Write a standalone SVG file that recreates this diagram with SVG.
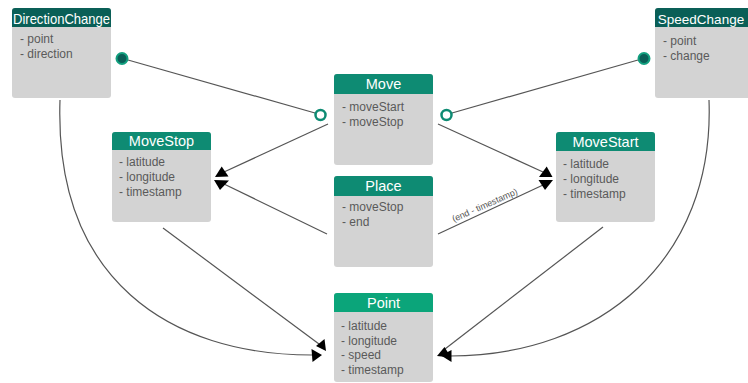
<svg xmlns="http://www.w3.org/2000/svg" width="748" height="383" viewBox="0 0 748 383">
<style>
.body{fill:#d3d3d3}
.hd{fill:#0e8b73}
.hd2{fill:#0a5f57}
.hd3{fill:#0ba57a}
.title{font-family:"Liberation Sans",Arial,sans-serif;font-size:14.5px;fill:#fff;text-anchor:middle}
.attr{font-family:"Liberation Sans",Arial,sans-serif;font-size:12px;fill:#5a5a5a}
.ln{fill:none;stroke:#555;stroke-width:1.2}
.ah{fill:#000}
.lbl{font-family:"Liberation Sans",Arial,sans-serif;font-size:9px;fill:#555;text-anchor:middle}
.dot{fill:#0a5f57;stroke:#12a07f;stroke-width:2}
.ring{fill:#fff;stroke:#0e8b73;stroke-width:2.5}
</style>
<g id="connectors">
<line class="ln" x1="128" y1="60" x2="315" y2="113"/>
<line class="ln" x1="638" y1="60" x2="452" y2="113"/>
<line class="ln" x1="328" y1="124" x2="224" y2="172"/>
<line class="ln" x1="327" y1="234" x2="224" y2="184"/>
<line class="ln" x1="438" y1="124" x2="543" y2="172"/>
<line class="ln" x1="438" y1="234" x2="543" y2="185"/>
<line class="ln" x1="163" y1="228" x2="319" y2="344"/>
<line class="ln" x1="603" y1="227" x2="445" y2="349"/>
<path class="ln" d="M60,100 C54,280 170,355 312,355"/>
<path class="ln" d="M709,100 C715,260 600,356 450,356"/>
<text class="lbl" transform="translate(486,208) rotate(-23.6)">(end - timestamp)</text>
<circle class="dot" cx="122" cy="58.5" r="5.5"/>
<circle class="dot" cx="644" cy="58.5" r="5.5"/>
<circle class="ring" cx="320.5" cy="115" r="5"/>
<circle class="ring" cx="446.5" cy="115" r="5"/>
<polygon class="ah" points="215,177 228.5,176.5 221.7,166.5"/>
<polygon class="ah" points="214,180 229,180.5 220,190"/>
<polygon class="ah" points="539,177 552.5,177 546.7,166.5"/>
<polygon class="ah" points="538.5,180 553,180 545,190"/>
<polygon class="ah" points="316,346 324.5,339 326,351"/>
<polygon class="ah" points="311.5,349 322,355 312.5,362"/>
<polygon class="ah" points="437,356 444.5,347 451,357.5"/>
<polygon class="ah" points="441,355.5 451.5,350 451.5,362"/>
</g>
<g id="DirectionChange">
<rect class="body" x="12" y="8" width="99" height="90" rx="3"/>
<path class="hd2" d="M12,27 V11 a3,3 0 0 1 3,-3 H108 a3,3 0 0 1 3,3 V27 Z"/>
<text class="title" x="61.5" y="23.5" textLength="97" lengthAdjust="spacingAndGlyphs">DirectionChange</text>
<text class="attr" x="20" y="43">- point</text>
<text class="attr" x="20" y="58">- direction</text>
</g>
<g id="SpeedChange">
<rect class="body" x="655" y="8" width="99" height="90" rx="3"/>
<path class="hd2" d="M655,27 V11 a3,3 0 0 1 3,-3 H751 a3,3 0 0 1 3,3 V27 Z"/>
<text class="title" x="701" y="23.5" style="font-size:13.5px">SpeedChange</text>
<text class="attr" x="663" y="45">- point</text>
<text class="attr" x="663" y="60">- change</text>
</g>
<g id="Move">
<rect class="body" x="334" y="74" width="99" height="91" rx="3"/>
<path class="hd" d="M334,94 V77 a3,3 0 0 1 3,-3 H430 a3,3 0 0 1 3,3 V94 Z"/>
<text class="title" x="383.5" y="89">Move</text>
<text class="attr" x="342" y="111">- moveStart</text>
<text class="attr" x="342" y="126">- moveStop</text>
</g>
<g id="MoveStop">
<rect class="body" x="112" y="132" width="99" height="90" rx="3"/>
<path class="hd" d="M112,150 V135 a3,3 0 0 1 3,-3 H208 a3,3 0 0 1 3,3 V150 Z"/>
<text class="title" x="161.5" y="146">MoveStop</text>
<text class="attr" x="119" y="166">- latitude</text>
<text class="attr" x="119" y="181">- longitude</text>
<text class="attr" x="119" y="196">- timestamp</text>
</g>
<g id="MoveStart">
<rect class="body" x="556" y="132" width="99" height="90" rx="3"/>
<path class="hd" d="M556,151 V135 a3,3 0 0 1 3,-3 H652 a3,3 0 0 1 3,3 V151 Z"/>
<text class="title" x="605.5" y="146.5">MoveStart</text>
<text class="attr" x="563" y="168">- latitude</text>
<text class="attr" x="563" y="183">- longitude</text>
<text class="attr" x="563" y="198">- timestamp</text>
</g>
<g id="Place">
<rect class="body" x="334" y="176" width="99" height="91" rx="3"/>
<path class="hd" d="M334,196 V179 a3,3 0 0 1 3,-3 H430 a3,3 0 0 1 3,3 V196 Z"/>
<text class="title" x="383.5" y="191">Place</text>
<text class="attr" x="342" y="211">- moveStop</text>
<text class="attr" x="342" y="226">- end</text>
</g>
<g id="Point">
<rect class="body" x="334" y="293" width="99" height="89" rx="3"/>
<path class="hd3" d="M334,312 V296 a3,3 0 0 1 3,-3 H430 a3,3 0 0 1 3,3 V312 Z"/>
<text class="title" x="383.5" y="308">Point</text>
<text class="attr" x="341" y="330">- latitude</text>
<text class="attr" x="341" y="345">- longitude</text>
<text class="attr" x="341" y="359">- speed</text>
<text class="attr" x="341" y="374">- timestamp</text>
</g>
</svg>
